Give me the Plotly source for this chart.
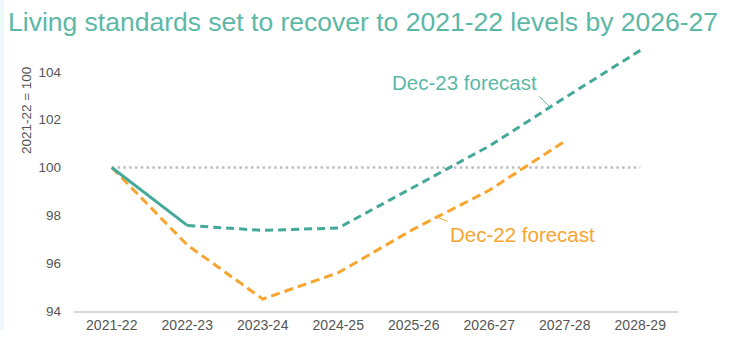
import numpy as np
import plotly.graph_objects as go

# Financial years on the x axis
years = ["2021-22", "2022-23", "2023-24", "2024-25", "2025-26", "2026-27", "2027-28", "2028-29"]

# Real household disposable income per person, index 2021-22 = 100
dec23_forecast = [100.0, 97.58, 97.37, 97.47, 99.2, 100.9, 102.92, 104.9]
dec22_forecast = [100.0, 96.76, 94.5, 95.6, 97.43, 99.05, 101.1]

baseline = [100.0] * len(years)
y_ticks = [94, 96, 98, 100, 102, 104]

TEAL_LINE = "#45a999"
TEAL_TEXT = "#5cb8a6"
ORANGE = "#f8a530"
GREY_TEXT = "#555555"
FONT = "Liberation Sans, Arial, sans-serif"


def value_at(series, pos):
    """Linear position along a series at a fractional category index."""
    return float(np.interp(pos, np.arange(len(series)), series))


fig = go.Figure()

# Reference level at 100
fig.add_trace(go.Scatter(
    x=years, y=baseline, mode="lines",
    line=dict(color="#bdbdbd", width=2.5, dash="2.5px,3.3px"),
    hoverinfo="skip", showlegend=False,
))

# Dec-22 forecast
fig.add_trace(go.Scatter(
    x=years[:len(dec22_forecast)], y=dec22_forecast, mode="lines",
    line=dict(color=ORANGE, width=3, dash="9px,5px"),
    name="Dec-22 forecast", showlegend=False,
))

# Dec-23 forecast: outturn segment solid, projection dashed
fig.add_trace(go.Scatter(
    x=years[:2], y=dec23_forecast[:2], mode="lines",
    line=dict(color=TEAL_LINE, width=3),
    name="Dec-23 outturn", showlegend=False,
))
fig.add_trace(go.Scatter(
    x=years[1:], y=dec23_forecast[1:], mode="lines",
    line=dict(color=TEAL_LINE, width=3, dash="8px,5px"),
    name="Dec-23 forecast", showlegend=False,
))

# Series labels with short leader lines
p23 = 5.805
fig.add_annotation(
    x=p23, y=value_at(dec23_forecast, p23), xref="x", yref="y",
    text="Dec-23 forecast", showarrow=True, arrowhead=0, arrowwidth=1,
    arrowcolor=TEAL_TEXT, ax=-11, ay=-11, xanchor="right", yanchor="bottom",
    font=dict(family=FONT, size=20.5, color=TEAL_TEXT),
)
p22 = 4.305
fig.add_annotation(
    x=p22, y=value_at(dec22_forecast, p22), xref="x", yref="y",
    text="Dec-22 forecast", showarrow=True, arrowhead=0, arrowwidth=1,
    arrowcolor=ORANGE, ax=11, ay=4, xanchor="left", yanchor="top",
    font=dict(family=FONT, size=20.5, color=ORANGE),
)

# Vertical axis caption
fig.add_annotation(
    x=-48 / 604, y=0.76, xref="paper", yref="paper",
    text="2021-22 = 100", textangle=-90, showarrow=False,
    xanchor="center", yanchor="middle",
    font=dict(family=FONT, size=13.5, color=GREY_TEXT),
)

# Thin pale strip along the left edge of the page
fig.add_shape(
    type="rect", xref="paper", yref="paper",
    x0=-74 / 604, x1=-70 / 604, y0=-19 / 263, y1=1 + 48 / 263,
    line=dict(width=0), fillcolor="#eef9f9", layer="below",
)

fig.update_layout(
    width=748, height=347,
    margin=dict(l=74, r=70, t=48, b=36),
    paper_bgcolor="white", plot_bgcolor="white",
    font=dict(family=FONT, size=13, color=GREY_TEXT),
    title=dict(
        text="Living standards set to recover to 2021-22 levels by 2026-27",
        x=8 / 748, xanchor="left", xref="container",
        y=1 - 22 / 347, yanchor="middle", yref="container",
        font=dict(family=FONT, size=26.5, color=TEAL_TEXT),
    ),
    xaxis=dict(
        type="category", categoryorder="array", categoryarray=years,
        range=[-0.5, 7.5], showgrid=False, zeroline=False,
        showline=True, linecolor="#d9d9d9", linewidth=1.5,
        ticks="", tickfont=dict(size=14, color=GREY_TEXT),
    ),
    yaxis=dict(
        range=[94, 105], tickvals=y_ticks, showgrid=False, zeroline=False,
        showline=False, ticks="", ticklabelstandoff=12,
        tickfont=dict(size=13.5, color=GREY_TEXT),
    ),
)

fig.write_html("out.html")
